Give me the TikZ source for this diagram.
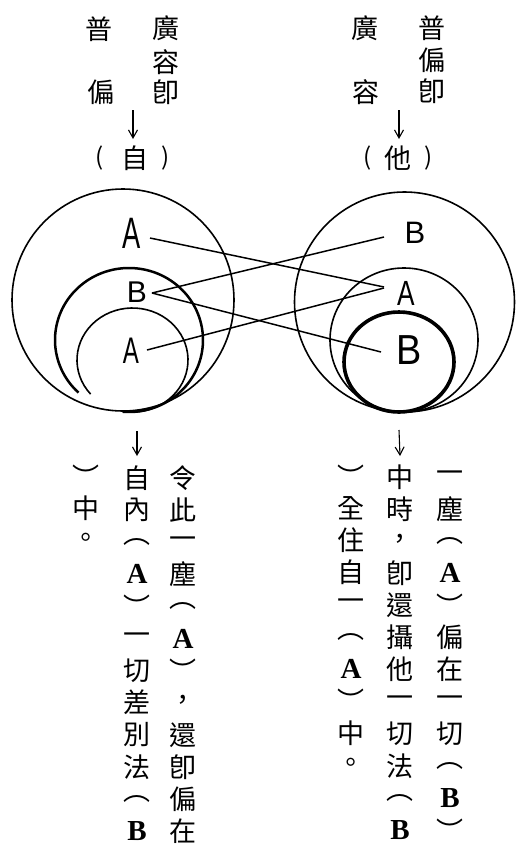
\documentclass[tikz,border=0pt]{standalone}
\usepackage{fontspec}
\setmainfont{Liberation Serif}
\newfontfamily\cjk{Noto Sans CJK TC}
\newfontfamily\hand{Liberation Sans}
\usetikzlibrary{arrows.meta}
\newcommand\BA{{\rmfamily\bfseries\fontsize{29}{29}\selectfont A}}
\newcommand\BB{{\rmfamily\bfseries\fontsize{29}{29}\selectfont B}}
\newcommand\vcolumn[4]{\foreach \ch [count=\i from 0] in {#4} {\node[cj] (#1-\i) at (#2, #3+32.1*\i) {\ch};}}
\tikzset{
  cj/.style={font=\cjk\fontsize{27}{27}\selectfont, inner sep=0pt},
  par/.style={font=\cjk\fontsize{24}{24}\selectfont, inner sep=0pt},
  letter/.style={font=\hand\fontsize{#1}{#1}\selectfont, inner sep=0pt},
  circ/.style={line width=1.6pt},
  thickcirc/.style={line width=2.5pt},
  heavycirc/.style={line width=3.6pt},
  link/.style={line width=1.5pt},
  arr/.style={line width=1.1pt, -{Straight Barb[length=8pt,width=9pt]}},
}
\begin{document}
\begin{tikzpicture}[x=1pt,y=-1pt]
\fill[white] (0,0) rectangle (516,847);
\path[use as bounding box] (0,0) rectangle (516,847);

% ---- top left labels
\node[cj] (tl1) at (99,29) {普};
\node[cj] (tl2) at (101,92) {偏};
\node[cj] (tl3) at (166,28) {廣};
\node[cj] (tl4) at (166,62) {容};
\node[cj] (tl5) at (166,92) {卽};
\node[par] (tlp1) at (100,158) {(};
\node[cj] (zi) at (135,158) {自};
\node[par] (tlp2) at (166,158) {)};
\coordinate (ta1) at (133,110);
\draw[arr] (ta1) -- ([shift={(-2,-19)}]zi.center);

% ---- top right labels
\node[cj] (tr1) at (365,28) {廣};
\node[cj] (tr2) at (366,92) {容};
\node[cj] (tr3) at (432,28) {普};
\node[cj] (tr4) at (432,60) {偏};
\node[cj] (tr5) at (432,91) {卽};
\node[par] (trp1) at (368,158) {(};
\node[cj] (ta) at (398,158) {他};
\node[par] (trp2) at (429,158) {)};
\coordinate (ta2) at (399,110);
\draw[arr] (ta2) -- ([shift={(1,-19)}]ta.center);

% ---- left circles
\draw[circ] (123,300) circle [radius=111];
\draw[thickcirc] ([shift={(133:74 and 72)}]129,340) arc [start angle=133, end angle=455, x radius=74, y radius=72];
\draw[circ] ([shift={(139:55.5 and 52)}]132.5,360) arc [start angle=139, end angle=455, x radius=55.5, y radius=52];

% ---- right circles
\draw[circ] (404.5,302) circle [radius=110];
\draw[circ] (404,340) ellipse [x radius=74, y radius=72];
\draw[heavycirc] (399,362) ellipse [x radius=55, y radius=50];

% ---- letters
\node[letter=44, xscale=.62] (lA1) at (132,233) {A};
\node[letter=30] (lB) at (137,292) {B};
\node[letter=37, xscale=.65] (lA2) at (131,351) {A};
\node[letter=31] (rB1) at (415,233) {B};
\node[letter=35, xscale=.75] (rA) at (406,293) {A};
\node[letter=42, xscale=.9] (rB2) at (409,350) {B};

% ---- connectors
\draw[link] ([shift={(18,5)}]lA1.center) -- ([shift={(-22,-6)}]rA.center);
\draw[link] ([shift={(15,1)}]lB.center) -- ([shift={(-31,4)}]rB1.center);
\draw[link] ([shift={(15,1)}]lB.center) -- ([shift={(-28,2)}]rB2.center);
\draw[link] ([shift={(16,-1)}]lA2.center) -- ([shift={(-22,-5)}]rA.center);

% ---- bottom left text
\vcolumn{lr}{183}{478}{令,此,一,塵,︵,\BA,︶,，,還,卽,偏,在}
\vcolumn{lm}{137}{478}{自,內,︵,\BA,︶,一,切,差,別,法,︵,\BB}
\vcolumn{ll}{86}{476}{︶,中,。}
\coordinate (ba1) at (137,431);
\draw[arr] (ba1) -- ([shift={(0,-22)}]lm-0.center);

% ---- bottom right text
\vcolumn{rr}{450}{477}{一,塵,︵,\BA,︶,偏,在,一,切,︵,\BB,︶}
\vcolumn{rm}{400}{477}{中,時,，,卽,還,攝,他,一,切,法,︵,\BB}
\vcolumn{rl}{351}{476}{︶,全,住,自,一,︵,\BA,︶,中,。}
\coordinate (ba2) at (399,430);
\draw[arr] (ba2) -- ([shift={(0,-21)}]rm-0.center);
\end{tikzpicture}
\end{document}
